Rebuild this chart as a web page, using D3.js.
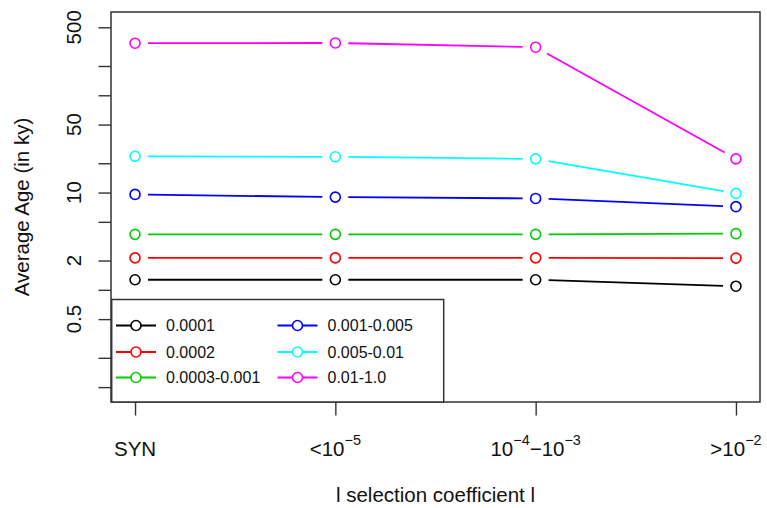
<!DOCTYPE html>
<html>
<head>
<meta charset="utf-8">
<script src="https://cdn.jsdelivr.net/npm/d3@7"></script>
<style>
  body { margin: 0; background: #fff; }
  text { font-family: "Liberation Sans", Arial, Helvetica, sans-serif; fill: #111; }
</style>
</head>
<body>
<div id="my_dataviz"></div>
<script>
// categories on the x axis
const categories = ["SYN", "lt5", "4to3", "gt2"];
// tick labels: [text, isSuperscript]
const tickLabels = [
  [["SYN", 0]],
  [["<10", 0], ["\u22125", 1]],
  [["10", 0], ["\u22124", 1], ["\u221210", 0], ["\u22123", 1]],
  [[">10", 0], ["\u22122", 1]]
];

// series (average age in ky)
const seriesNames = ["0.0001", "0.0002", "0.0003-0.001", "0.001-0.005", "0.005-0.01", "0.01-1.0"];
const age0001 = [1.27, 1.27, 1.27, 1.09];
const age0002 = [2.13, 2.13, 2.13, 2.12];
const age0003 = [3.72, 3.72, 3.72, 3.78];
const age001 = [9.57, 8.98, 8.7, 7.16];
const age005 = [23.6, 23.3, 22.2, 9.8];
const age01 = [343, 345, 312, 22.2];
const seriesColors = ["#000000", "#FF0000", "#00CD00", "#0000FF", "#00FFFF", "#FF00FF"];

// y axis ticks
const yTicks = [500, 200, 100, 50, 20, 10, 5, 2, 1, 0.5, 0.2, 0.1];
const yLabels = [500, 50, 10, 2, 0.5];

const allSeries = [age0001, age0002, age0003, age001, age005, age01];

// set the dimensions and margins of the graph
const margin = {top: 12, right: 7, bottom: 106, left: 111},
    width = 767 - margin.left - margin.right,
    height = 508 - margin.top - margin.bottom;

const svg = d3.select("#my_dataviz")
  .append("svg")
    .attr("width", width + margin.left + margin.right)
    .attr("height", height + margin.top + margin.bottom)
  .append("g")
    .attr("transform", `translate(${margin.left}, ${margin.top})`);

// scales
const x = d3.scalePoint()
  .domain(categories)
  .range([0, width])
  .padding(0.12);

const y = d3.scaleLog()
  .domain([0.0703, 718])
  .range([height, 0]);

// Y axis ticks
const yAxis = svg.append("g")
  .call(d3.axisLeft(y).tickValues(yTicks).tickFormat("").tickSize(12.5));
yAxis.select(".domain").remove();
yAxis.selectAll("line").attr("stroke", "#333").attr("stroke-width", 1.4);

// Y tick labels, rotated like R
svg.selectAll("ylabels")
  .data(yLabels)
  .join("text")
    .attr("transform", d => `translate(-30, ${y(d)}) rotate(-90)`)
    .attr("text-anchor", "middle")
    .attr("font-size", 20.5)
    .text(d => d);

// X axis ticks
const xAxis = svg.append("g")
  .attr("transform", `translate(0, ${height})`)
  .call(d3.axisBottom(x).tickFormat("").tickSize(13.5));
xAxis.select(".domain").remove();
xAxis.selectAll("line").attr("stroke", "#333").attr("stroke-width", 1.4);

// X tick labels with superscripts
const xl = svg.selectAll("xlabels")
  .data(categories)
  .join("text")
    .attr("x", d => x(d))
    .attr("y", height + 54)
    .attr("text-anchor", "middle")
    .attr("font-size", 20.5);
xl.each(function(d, i) {
  const t = d3.select(this);
  let shifted = false;
  tickLabels[i].forEach(function(p) {
    const ts = t.append("tspan").text(p[0]);
    if (p[1]) {
      ts.attr("font-size", 14.4).attr("dy", -11);
      shifted = true;
    } else if (shifted) {
      ts.attr("dy", 11);
      shifted = false;
    }
  });
});

// axis titles
svg.append("text")
  .attr("text-anchor", "middle")
  .attr("x", width / 2)
  .attr("y", height + 100)
  .attr("font-size", 20.5)
  .text("l selection coefficient l");

svg.append("text")
  .attr("text-anchor", "middle")
  .attr("transform", `translate(${29 - margin.left}, ${height / 2}) rotate(-90)`)
  .attr("font-size", 20.5)
  .text("Average Age (in ky)");

// lines with gaps around points (type = "b")
const gap = 13;
allSeries.forEach(function(vals, si) {
  const pts = vals.map((v, i) => [x(categories[i]), y(v)]);
  const segs = d3.pairs(pts).map(function(p) {
    const dx = p[1][0] - p[0][0], dy = p[1][1] - p[0][1];
    const len = Math.sqrt(dx * dx + dy * dy);
    const ux = dx / len, uy = dy / len;
    return [p[0][0] + ux * gap, p[0][1] + uy * gap, p[1][0] - ux * gap, p[1][1] - uy * gap];
  });
  svg.selectAll("seg" + si)
    .data(segs)
    .join("line")
      .attr("x1", d => d[0]).attr("y1", d => d[1])
      .attr("x2", d => d[2]).attr("y2", d => d[3])
      .attr("stroke", seriesColors[si])
      .attr("stroke-width", 1.8);
  svg.selectAll("pt" + si)
    .data(vals)
    .join("circle")
      .attr("cx", (d, i) => x(categories[i]))
      .attr("cy", d => y(d))
      .attr("r", 5)
      .attr("fill", "none")
      .attr("stroke", seriesColors[si])
      .attr("stroke-width", 1.6);
});

// plot box
svg.append("rect")
  .attr("x", 0).attr("y", 0)
  .attr("width", width).attr("height", height)
  .attr("fill", "none")
  .attr("stroke", "#333")
  .attr("stroke-width", 1.5);

//////////
// LEGEND //
//////////
const legend = svg.append("g");
const legW = 332, legH = 102.5;
legend.append("rect")
  .attr("x", 0.7).attr("y", height - legH)
  .attr("width", legW).attr("height", legH)
  .attr("fill", "white")
  .attr("stroke", "#333")
  .attr("stroke-width", 1.5);

const rowY = [-76.5, -50, -24.5];
const colX = [5, 166.5];
seriesNames.forEach(function(name, i) {
  const cx = colX[Math.floor(i / 3)], cy = height + rowY[i % 3];
  const c = seriesColors[i];
  legend.append("line")
    .attr("x1", cx).attr("x2", cx + 40)
    .attr("y1", cy).attr("y2", cy)
    .attr("stroke", c).attr("stroke-width", 1.8);
  legend.append("circle")
    .attr("cx", cx + 20).attr("cy", cy).attr("r", 5)
    .attr("fill", "white").attr("stroke", c).attr("stroke-width", 1.6);
  legend.append("text")
    .attr("x", cx + 50).attr("y", cy + 5.8)
    .attr("font-size", 16)
    .text(name);
});
</script>
</body>
</html>
